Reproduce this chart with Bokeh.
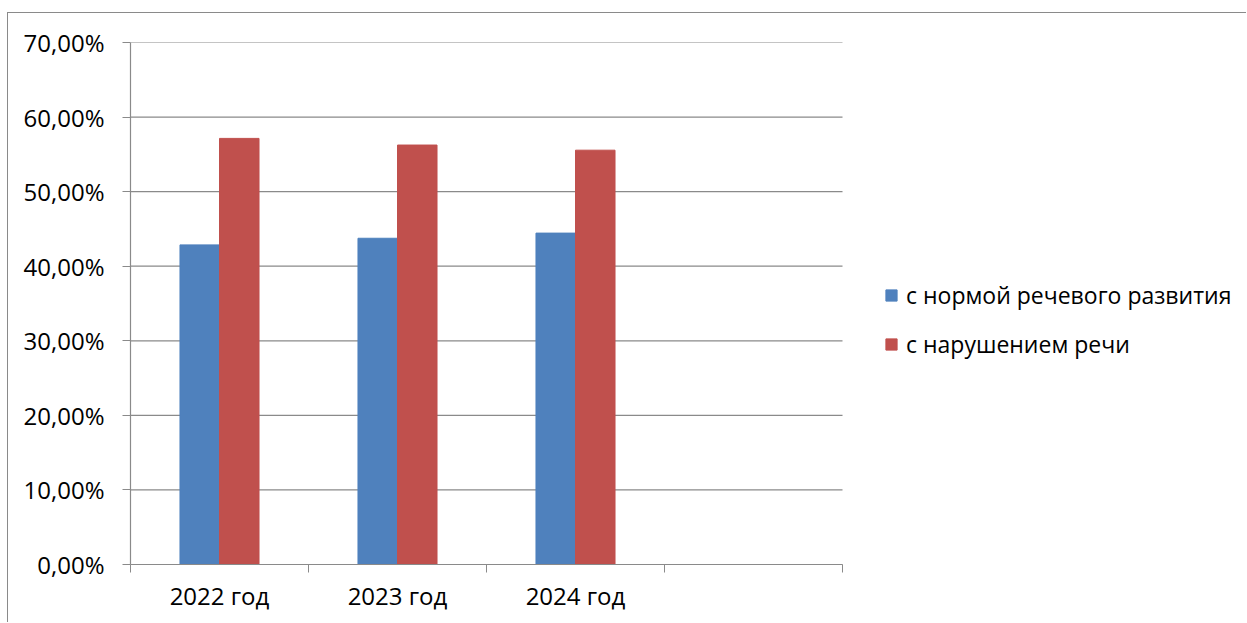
import numpy as np
from bokeh.plotting import figure
from bokeh.models import ColumnDataSource, Range1d, FixedTicker, Legend, LegendItem
from bokeh.transform import dodge
from bokeh.embed import file_html
from bokeh.resources import INLINE

years = ["2022 год", "2023 год", "2024 год"]
norm = [42.86, 43.75, 44.44]
speech = [57.14, 56.25, 55.56]
series_names = ["с нормой речевого развития", "с нарушением речи"]
colors = ["#4F81BD", "#C0504D"]
y_ticks = [0, 10, 20, 30, 40, 50, 60, 70]
n_slots = 4

FONT = "Open Sans"
FS = "24px"
GRAY = "#8a8a8a"

centers = [i + 0.5 for i in range(len(years))]
src = ColumnDataSource(dict(x=centers, norm=norm, speech=speech))

# frame spans to the right edge; the plotted slots occupy [0, n_slots] only,
# the remaining space on the right hosts the legend
x_end = n_slots * 1117 / 712
p = figure(width=1239, height=610, x_range=Range1d(0, x_end), y_range=Range1d(0, 70),
           output_backend="svg", toolbar_location=None,
           min_border_left=122, min_border_right=0, min_border_top=29, min_border_bottom=59)
p.margin = (12, 0, 0, 7)
p.styles = {"border-top": "1px solid #8a8a8a", "border-left": "1px solid #8a8a8a"}

# horizontal gridlines limited to the category slots
p.segment(x0=0, x1=n_slots, y0=y_ticks, y1=y_ticks, line_color=GRAY, line_width=1.2)

bw = 0.222
r1 = p.vbar(x=dodge("x", -bw / 2, range=p.x_range), top="norm", width=bw, source=src,
            fill_color=colors[0], line_color=colors[0])
r2 = p.vbar(x=dodge("x", bw / 2, range=p.x_range), top="speech", width=bw, source=src,
            fill_color=colors[1], line_color=colors[1])

p.outline_line_color = None
p.xgrid.grid_line_color = None
p.ygrid.grid_line_color = None

# x axis
p.xaxis.bounds = (0, n_slots)
p.xaxis.ticker = FixedTicker(ticks=centers, minor_ticks=list(range(n_slots + 1)))
p.xaxis.major_label_overrides = {c: y for c, y in zip(centers, years)}
p.xaxis.major_tick_line_color = None
p.xaxis.major_tick_in = 0
p.xaxis.major_tick_out = 8
p.xaxis.minor_tick_in = 0
p.xaxis.minor_tick_out = 8
p.xaxis.minor_tick_line_color = GRAY
p.xaxis.axis_line_color = GRAY
p.xaxis.axis_line_width = 1.2
p.xaxis.major_label_standoff = 6

# y axis
p.yaxis.ticker = FixedTicker(ticks=y_ticks)
p.yaxis.major_label_overrides = {t: f"{t},00%" for t in y_ticks}
p.yaxis.major_tick_in = 0
p.yaxis.major_tick_out = 8
p.yaxis.major_tick_line_color = GRAY
p.yaxis.minor_tick_line_color = None
p.yaxis.axis_line_color = GRAY
p.yaxis.axis_line_width = 1.2
p.yaxis.major_label_standoff = 18

for ax in (p.xaxis, p.yaxis):
    ax.major_label_text_font = FONT
    ax.major_label_text_font_size = FS
    ax.major_label_text_color = "black"

legend = Legend(items=[LegendItem(label=series_names[0], renderers=[r1]),
                       LegendItem(label=series_names[1], renderers=[r2])],
                location=(754, 204), orientation="vertical",
                glyph_width=14, glyph_height=14, label_standoff=8,
                label_height=30, spacing=17, padding=0, margin=0,
                border_line_color=None, background_fill_alpha=0,
                label_text_font=FONT, label_text_font_size="23px", label_text_color="black")
p.add_layout(legend, "center")

open("out.html", "w").write(file_html(p, INLINE))
